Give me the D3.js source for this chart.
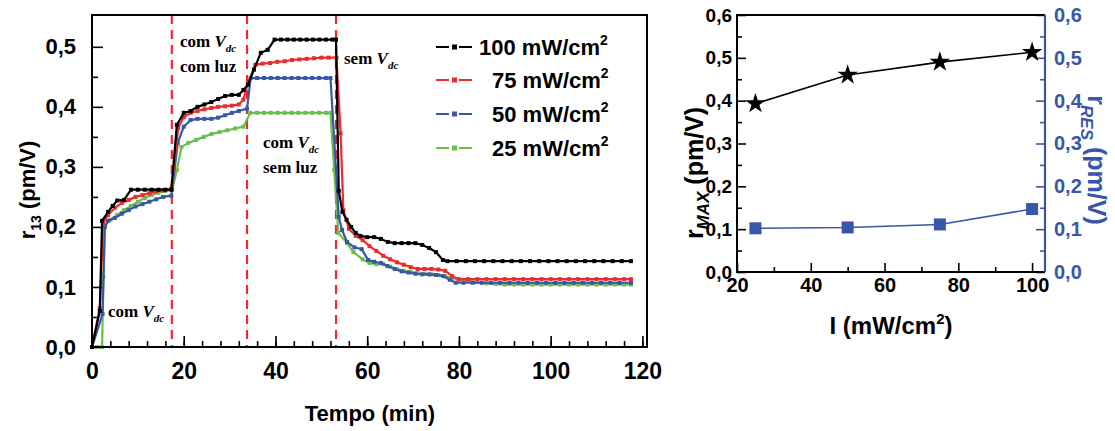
<!DOCTYPE html>
<html>
<head>
<meta charset="utf-8">
<script src="https://cdn.jsdelivr.net/npm/d3@7"></script>
<style>
  body { margin: 0; background: #fff; }
  svg text { font-family: "Liberation Sans", Arial, sans-serif; font-weight: bold; }
  .serif { font-family: "Liberation Serif", "Times New Roman", serif; }
</style>
</head>
<body>
<svg id="fig" width="1115" height="431"></svg>
<script>
// ---- left panel: r13 vs tempo, [min, pm/V] ----
var s100 = [[0,0],[1.7,0.06],[2.2,0.21],[3.5,0.225],[4.5,0.235],[5.5,0.244],[7,0.245],[8.5,0.262],[10,0.262],[11.5,0.262],[13,0.262],[14.5,0.262],[16,0.262],[17.3,0.262],
  [18.5,0.37],[20,0.39],[21.5,0.393],[23,0.4],[24.5,0.404],[26,0.408],[27.5,0.413],[29,0.418],[30.5,0.42],[32,0.42],[33,0.428],[34,0.437],[35.3,0.462],[36.8,0.49],[38.3,0.495],
  [39.8,0.512],[41.2,0.512],[42.6,0.512],[44,0.512],[45.4,0.512],[46.8,0.512],[48.2,0.512],[49.6,0.512],[51,0.512],[52.4,0.512],[53.2,0.512],
  [53.8,0.26],[54.6,0.225],[55.5,0.212],[56.5,0.2],[57.5,0.19],[58.5,0.185],[60,0.183],[61.5,0.183],[63,0.18],[64.5,0.175],[66,0.173],[67.5,0.173],[69,0.173],[70.5,0.173],
  [72,0.17],[73.5,0.165],[75,0.158],[76.5,0.145],[77.5,0.143],[79.5,0.143],[81.5,0.143],[83.5,0.143],[85.5,0.143],[87.5,0.143],[89.5,0.143],[91.5,0.143],[93.5,0.143],
  [95.5,0.143],[97.5,0.143],[99.5,0.143],[101.5,0.143],[103.5,0.143],[105.5,0.143],[107.5,0.143],[109.5,0.143],[111.5,0.143],[113.5,0.143],[115.5,0.143],[117.5,0.143]];

var s75 = [[0,0],[1.7,0.065],[2.4,0.205],[3.5,0.22],[5,0.232],[6.5,0.24],[8,0.245],[9.5,0.25],[11,0.253],[12.5,0.256],[14,0.259],[15.5,0.261],[17.3,0.263],
  [18.8,0.365],[20,0.383],[21.5,0.39],[23,0.393],[24.5,0.396],[26,0.398],[27.5,0.4],[29,0.401],[30.5,0.402],[32,0.404],[33,0.412],[34,0.44],[35.6,0.47],[37.2,0.472],
  [38.8,0.473],[40.4,0.475],[42,0.476],[43.6,0.478],[45.2,0.479],[46.8,0.48],[48.4,0.481],[50,0.482],[51.6,0.482],[53.3,0.482],
  [54.2,0.356],[54.8,0.228],[56,0.197],[57.5,0.185],[59,0.178],[60.5,0.168],[62,0.16],[63.5,0.152],[65,0.146],[66.5,0.141],[68,0.137],[69.5,0.133],[71,0.13],
  [72.5,0.13],[74,0.13],[75.5,0.129],[77,0.127],[78.5,0.118],[80,0.113],[82,0.113],[84,0.113],[86,0.113],[88,0.113],[90,0.113],[92,0.113],[94,0.113],[96,0.113],
  [98,0.113],[100,0.113],[102,0.113],[104,0.113],[106,0.113],[108,0.113],[110,0.113],[112,0.113],[114,0.113],[116,0.113],[117.5,0.113]];

var s50 = [[0,0],[2.3,0.055],[2.8,0.2],[3.5,0.21],[5,0.215],[6.5,0.222],[8,0.228],[9.5,0.234],[11,0.238],[12.5,0.242],[14,0.246],[15.5,0.25],[17.3,0.252],
  [18.7,0.34],[20,0.367],[21.5,0.378],[23,0.38],[24.5,0.38],[26,0.38],[27.5,0.382],[29,0.386],[30.5,0.39],[32,0.393],[33.8,0.397],[34.6,0.448],[36,0.448],
  [37.5,0.448],[39,0.448],[40.5,0.448],[42,0.448],[43.5,0.448],[45,0.448],[46.5,0.448],[48,0.448],[49.5,0.448],[51,0.448],[52,0.448],
  [53.8,0.217],[54.5,0.195],[55.6,0.175],[57.2,0.166],[58.8,0.163],[60.2,0.145],[61.5,0.142],[63,0.14],[64.4,0.135],[66,0.13],[67.5,0.126],[69,0.124],
  [70.5,0.122],[72,0.121],[73.5,0.121],[75,0.12],[76.6,0.118],[78,0.112],[79.3,0.107],[81,0.107],[83,0.107],[85,0.107],[87,0.107],[89,0.107],[91,0.107],
  [93,0.107],[95,0.107],[97,0.107],[99,0.107],[101,0.107],[103,0.107],[105,0.107],[107,0.107],[109,0.107],[111,0.107],[113,0.107],[115,0.107],[117.5,0.107]];

var s25 = [[0,0],[1.1,0],[2.2,0],[2.5,0.117],[2.8,0.203],[4,0.212],[5.5,0.22],[7,0.228],[8.5,0.235],[10,0.242],[11.5,0.248],[13,0.253],[14.5,0.257],[16,0.26],[17.5,0.262],
  [18.5,0.295],[19.5,0.333],[21,0.34],[22.7,0.345],[24.4,0.35],[26.1,0.355],[27.8,0.358],[29.5,0.361],[31.2,0.364],[33,0.367],[34.5,0.39],[36,0.39],[37.5,0.39],
  [39,0.39],[40.5,0.39],[42,0.39],[43.5,0.39],[45,0.39],[46.5,0.39],[48,0.39],[49.5,0.39],[51,0.39],[52,0.39],
  [52.8,0.295],[53.7,0.19],[55.6,0.173],[57,0.158],[59,0.146],[60.5,0.14],[62,0.138],[63.5,0.138],[65,0.134],[66.5,0.13],[68,0.127],[69.5,0.125],[71,0.123],
  [72.5,0.122],[74,0.121],[75.5,0.12],[77,0.118],[78.5,0.115],[80,0.112],[82,0.11],[84,0.108],[86,0.106],[88,0.105],[90,0.104],[92,0.104],[94,0.104],[96,0.104],
  [98,0.104],[100,0.104],[102,0.104],[104,0.104],[106,0.104],[108,0.104],[110,0.104],[112,0.104],[114,0.104],[116,0.104],[117.5,0.104]];

var seriesNames = ['100', '75', '50', '25'];
var seriesColors = ['#000000', '#ee2a2f', '#3a56a8', '#6cbf4b'];
var eventTimes = [17.4, 33.8, 53.2];   // dashed markers (min)

// ---- right panel: r vs intensity ----
var intensity = [25, 50, 75, 100];
var rMax = [0.393, 0.46, 0.49, 0.513];
var rRes = [0.102, 0.104, 0.111, 0.147];

var xTicksL = [0, 20, 40, 60, 80, 100, 120];
var yTicksL = [0, 0.1, 0.2, 0.3, 0.4, 0.5];
var xTicksR = [20, 40, 60, 80, 100];
var yTicksR = [0, 0.1, 0.2, 0.3, 0.4, 0.5, 0.6];

var svg = d3.select('#fig');
var comma = function(d){ return d3.format('.1f')(d).replace('.', ','); };
var BLUE = '#3a56a8';

// ================= LEFT =================
var xL = d3.scaleLinear().domain([0, 121]).range([92, 647]);
var yL = d3.scaleLinear().domain([0, 0.553]).range([347, 15]);

var left = svg.append('g');

// minor ticks
left.append('g')
  .attr('transform', 'translate(0,347)')
  .call(d3.axisBottom(xL).tickValues(d3.range(0, 121, 4)).tickFormat('').tickSize(-6))
  .call(g => g.select('.domain').remove());
left.append('g')
  .attr('transform', 'translate(92,0)')
  .call(d3.axisLeft(yL).tickValues([0.05, 0.15, 0.25, 0.35, 0.45]).tickFormat('').tickSize(-6))
  .call(g => g.select('.domain').remove());

var axXL = left.append('g')
  .attr('transform', 'translate(0,347)')
  .call(d3.axisBottom(xL).tickValues(xTicksL).tickFormat(d3.format('d')).tickSize(-11).tickPadding(16));
axXL.select('.domain').remove();
axXL.selectAll('text').style('font-size', '23px').attr('fill', '#000');

var axYL = left.append('g')
  .attr('transform', 'translate(92,0)')
  .call(d3.axisLeft(yL).tickValues(yTicksL).tickFormat(comma).tickSize(-11).tickPadding(16));
axYL.select('.domain').remove();
axYL.selectAll('text').style('font-size', '22px').attr('fill', '#000');

left.selectAll('.tick line').attr('stroke', '#000').attr('stroke-width', 1.6);

// event lines
left.selectAll('line.evt')
  .data(eventTimes).enter().append('line')
  .attr('class', 'evt')
  .attr('x1', d => xL(d)).attr('x2', d => xL(d))
  .attr('y1', yL(0.553)).attr('y2', yL(0))
  .attr('stroke', '#ee2a2f').attr('stroke-width', 2.2)
  .attr('stroke-dasharray', '9,6');

var line = d3.line().x(d => xL(d[0])).y(d => yL(d[1]));
var allSeries = [s100, s75, s50, s25];

// draw in back-to-front order: green, blue, red, black
[3, 2, 1, 0].forEach(function(i){
  var g = left.append('g');
  g.append('path')
    .datum(allSeries[i])
    .attr('d', line)
    .attr('fill', 'none')
    .attr('stroke', seriesColors[i])
    .attr('stroke-width', 2.2);
  g.selectAll('rect')
    .data(allSeries[i]).enter().append('rect')
    .attr('x', d => xL(d[0]) - 2)
    .attr('y', d => yL(d[1]) - 2)
    .attr('width', 4).attr('height', 4)
    .attr('fill', seriesColors[i]);
});

// frame
left.append('rect')
  .attr('x', 92).attr('y', 15).attr('width', 647 - 92).attr('height', 347 - 15)
  .attr('fill', 'none').attr('stroke', '#000').attr('stroke-width', 2);

// legend
var legRows = [47, 80, 114, 148];
var legTextX = [479, 492, 492, 492];
seriesNames.forEach(function(n, i){
  var y = legRows[i];
  var g = left.append('g');
  g.append('line').attr('x1', 436).attr('x2', 449).attr('y1', y).attr('y2', y)
    .attr('stroke', seriesColors[i]).attr('stroke-width', 2);
  g.append('line').attr('x1', 459).attr('x2', 472).attr('y1', y).attr('y2', y)
    .attr('stroke', seriesColors[i]).attr('stroke-width', 2);
  g.append('rect').attr('x', 452).attr('y', y - 2.5).attr('width', 5).attr('height', 5)
    .attr('fill', seriesColors[i]);
  var t = g.append('text').attr('x', legTextX[i]).attr('y', y + 8)
    .style('font-size', '22px').attr('fill', '#000');
  t.append('tspan').text(n + ' mW/cm');
  t.append('tspan').attr('dy', -10).style('font-size', '14px').text('2');
});

// annotations
function vdc(sel, prefix){
  sel.append('tspan').text(prefix + ' ');
  sel.append('tspan').style('font-style', 'italic').text('V');
  sel.append('tspan').style('font-style', 'italic').style('font-size', '11px').attr('dy', 5).text('dc');
}
var annFont = '17px';
vdc(left.append('text').attr('class', 'serif').attr('x', 180).attr('y', 47).style('font-size', annFont), 'com');
left.append('text').attr('class', 'serif').attr('x', 180).attr('y', 72).style('font-size', annFont).text('com luz');
vdc(left.append('text').attr('class', 'serif').attr('x', 344).attr('y', 64).style('font-size', annFont), 'sem');
vdc(left.append('text').attr('class', 'serif').attr('x', 263).attr('y', 148).style('font-size', annFont), 'com');
left.append('text').attr('class', 'serif').attr('x', 263).attr('y', 173).style('font-size', annFont).text('sem luz');
vdc(left.append('text').attr('class', 'serif').attr('x', 108).attr('y', 317).style('font-size', annFont), 'com');

// axis titles
left.append('text').attr('x', 370).attr('y', 421).attr('text-anchor', 'middle')
  .style('font-size', '22px').text('Tempo (min)');
var yt = left.append('text').attr('transform', 'translate(35,190) rotate(-90)').attr('text-anchor', 'middle')
  .style('font-size', '22px');
yt.append('tspan').text('r');
yt.append('tspan').attr('dy', 6).style('font-size', '14px').text('13');
yt.append('tspan').attr('dy', -6).text(' (pm/V)');

// ================= RIGHT =================
var xR = d3.scaleLinear().domain([20, 103.5]).range([737, 1045]);
var yR = d3.scaleLinear().domain([0, 0.6]).range([272, 15]);
var right = svg.append('g');

right.append('g').attr('transform', 'translate(0,272)')
  .call(d3.axisBottom(xR).tickValues([30, 50, 70, 90]).tickFormat('').tickSize(-5))
  .call(g => g.select('.domain').remove());
right.append('g').attr('transform', 'translate(737,0)')
  .call(d3.axisLeft(yR).tickValues([0.05, 0.15, 0.25, 0.35, 0.45, 0.55]).tickFormat('').tickSize(-5))
  .call(g => g.select('.domain').remove());
right.selectAll('.tick line').attr('stroke', '#000').attr('stroke-width', 1.6);

var rMinorBlue = right.append('g').attr('transform', 'translate(1045,0)')
  .call(d3.axisRight(yR).tickValues([0.05, 0.15, 0.25, 0.35, 0.45, 0.55]).tickFormat('').tickSize(-5))
  .call(g => g.select('.domain').remove());
rMinorBlue.selectAll('line').attr('stroke', BLUE).attr('stroke-width', 1.6);

var axXR = right.append('g').attr('transform', 'translate(0,272)')
  .call(d3.axisBottom(xR).tickValues(xTicksR).tickFormat(d3.format('d')).tickSize(-9).tickPadding(6));
axXR.select('.domain').remove();
axXR.selectAll('line').attr('stroke', '#000').attr('stroke-width', 1.6);
axXR.selectAll('text').style('font-size', '20px').attr('fill', '#000');

var axYR = right.append('g').attr('transform', 'translate(737,0)')
  .call(d3.axisLeft(yR).tickValues(yTicksR).tickFormat(comma).tickSize(-9).tickPadding(5));
axYR.select('.domain').remove();
axYR.selectAll('line').attr('stroke', '#000').attr('stroke-width', 1.6);
axYR.selectAll('text').style('font-size', '19px').attr('fill', '#000');

var axY2 = right.append('g').attr('transform', 'translate(1045,0)')
  .call(d3.axisRight(yR).tickValues(yTicksR).tickFormat(comma).tickSize(-9).tickPadding(9));
axY2.select('.domain').remove();
axY2.selectAll('line').attr('stroke', BLUE).attr('stroke-width', 1.6);
axY2.selectAll('text').style('font-size', '20px').attr('fill', BLUE);

// frame: black top/left/bottom, blue right
right.append('path')
  .attr('d', 'M1045,15 L737,15 L737,272 L1045,272')
  .attr('fill', 'none').attr('stroke', '#000').attr('stroke-width', 2);
right.append('line').attr('x1', 1045).attr('x2', 1045).attr('y1', 15).attr('y2', 272)
  .attr('stroke', BLUE).attr('stroke-width', 2.2);

var maxPts = intensity.map((d, i) => [d, rMax[i]]);
var resPts = intensity.map((d, i) => [d, rRes[i]]);
var lineR = d3.line().x(d => xR(d[0])).y(d => yR(d[1]));

right.append('path').datum(resPts).attr('d', lineR)
  .attr('fill', 'none').attr('stroke', BLUE).attr('stroke-width', 1.6);
right.selectAll('rect.res').data(resPts).enter().append('rect')
  .attr('class', 'res')
  .attr('x', d => xR(d[0]) - 6).attr('y', d => yR(d[1]) - 6)
  .attr('width', 12).attr('height', 12).attr('fill', BLUE);

right.append('path').datum(maxPts).attr('d', lineR)
  .attr('fill', 'none').attr('stroke', '#000').attr('stroke-width', 1.6);
right.selectAll('path.star').data(maxPts).enter().append('path')
  .attr('class', 'star')
  .attr('d', d3.symbol().type(d3.symbolStar).size(130))
  .attr('transform', d => 'translate(' + xR(d[0]) + ',' + yR(d[1]) + ')')
  .attr('fill', '#000');

// titles
var xtR = right.append('text').attr('x', 891).attr('y', 334).attr('text-anchor', 'middle').style('font-size', '24px');
xtR.append('tspan').text('I (mW/cm');
xtR.append('tspan').attr('dy', -10).style('font-size', '15px').text('2');
xtR.append('tspan').attr('dy', 10).text(')');

var ytR = right.append('text').attr('transform', 'translate(703,173) rotate(-90)').attr('text-anchor', 'middle').style('font-size', '25px');
ytR.append('tspan').text('r');
ytR.append('tspan').attr('dy', 6).style('font-size', '17px').style('font-style', 'italic').text('MAX');
ytR.append('tspan').attr('dy', -6).text(' (pm/V)');

var ytR2 = right.append('text').attr('transform', 'translate(1088,160) rotate(90)').attr('text-anchor', 'middle')
  .style('font-size', '25px').attr('fill', BLUE);
ytR2.append('tspan').text('r');
ytR2.append('tspan').attr('dy', 7).style('font-size', '17px').style('font-style', 'italic').text('RES');
ytR2.append('tspan').attr('dy', -7).text(' (pm/V)');
</script>
</body>
</html>
